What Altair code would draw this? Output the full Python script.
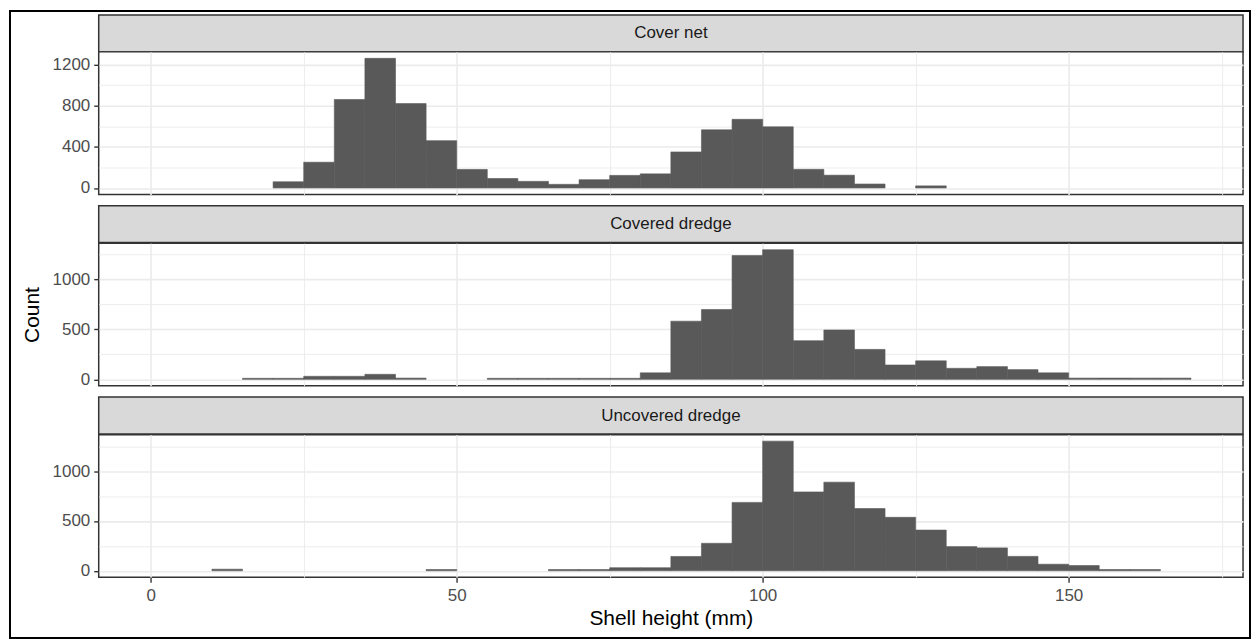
import altair as alt
import pandas as pd

# ---------------- data ----------------
panel_names = ["Cover net", "Covered dredge", "Uncovered dredge"]
bin_start = [0, 5, 10, 15, 20, 25, 30, 35, 40, 45, 50, 55, 60, 65, 70, 75, 80,
             85, 90, 95, 100, 105, 110, 115, 120, 125, 130, 135, 140, 145, 150,
             155, 160, 165]
bin_width = 5

cover_net = [0, 0, 0, 0, 60, 250, 860, 1260, 820, 460, 180, 92, 64, 35, 80, 122,
             137, 350, 565, 667, 594, 181, 124, 38, 0, 20, 0, 0, 0, 0, 0, 0, 0, 0]
covered_dredge = [0, 0, 0, 10, 10, 30, 30, 50, 12, 0, 0, 10, 10, 10, 10, 10, 65,
                  581, 698, 1237, 1295, 386, 493, 299, 143, 185, 110, 127, 97, 65,
                  12, 12, 12, 12]
uncovered_dredge = [0, 0, 15, 0, 0, 0, 0, 0, 0, 12, 0, 0, 0, 12, 12, 30, 30, 143,
                    275, 686, 1301, 791, 889, 624, 536, 408, 242, 229, 144, 65, 52,
                    12, 12, 0]

x_major = [0, 50, 100, 150]
x_minor = [25, 75, 125, 175]
y_major_cover = [0, 400, 800, 1200]
y_minor_cover = [200, 600, 1000]
y_major_dredge = [0, 500, 1000]
y_minor_dredge = [250, 750, 1250]

x_title = "Shell height (mm)"
y_title = "Count"

# ---------------- style ----------------
FONT = "Liberation Sans"
BAR = "#595959"
GRID = "#EBEBEB"
BORDER = "#333333"
STRIP = "#D9D9D9"
LABEL = "#4D4D4D"

W = 1148        # panel width
PH = 143        # panel height
SH = 37         # strip height
GAP = 11.35     # gap between panels
x_domain = [-8.5, 178.5]


def cond(test, a, b):
    return {"condition": {"test": test, "value": a}, "value": b}


def panel(counts, majors, minors, step, show_x, ytitle):
    df = pd.DataFrame({
        "start": bin_start,
        "end": [b + bin_width for b in bin_start],
        "count": counts,
    })
    ymax = max(counts)
    ydom = [-0.05 * ymax, 1.05 * ymax]

    xtest = "datum.value % 50 === 0"
    if show_x:
        x_axis = alt.Axis(
            values=sorted(x_major + x_minor), format="d",
            labelExpr=f"{xtest} ? datum.label : ''",
            grid=True, gridColor=GRID, gridWidth=cond(xtest, 1.6, 0.9),
            domain=False, ticks=True, tickColor=BORDER, tickWidth=1.4, tickSize=5,
            tickOpacity=cond(xtest, 1, 0),
            labelFont=FONT, labelFontSize=17, labelColor=LABEL, labelPadding=5,
            labelFlush=False, labelOverlap=False,
            title=x_title, titleFont=FONT, titleFontSize=21,
            titleFontWeight="normal", titleColor="#000000", titlePadding=4,
        )
    else:
        x_axis = alt.Axis(
            values=sorted(x_major + x_minor), labels=False, ticks=False,
            domain=False, grid=True, gridColor=GRID,
            gridWidth=cond(xtest, 1.6, 0.9), title=None,
        )

    ytest = f"datum.value % {step} === 0"
    y_kwargs = dict(
        values=sorted(majors + minors), format="d",
        labelExpr=f"{ytest} ? datum.label : ''",
        grid=True, gridColor=GRID, gridWidth=cond(ytest, 1.6, 0.9),
        domain=False, ticks=True, tickColor=BORDER, tickWidth=1.4, tickSize=5,
        tickOpacity=cond(ytest, 1, 0),
        labelFont=FONT, labelFontSize=17, labelColor=LABEL, labelPadding=4,
        labelFlush=False, labelOverlap=False,
    )
    if ytitle:
        y_axis = alt.Axis(title=ytitle, titleFont=FONT, titleFontSize=21,
                          titleFontWeight="normal", titleColor="#000000",
                          titlePadding=10, **y_kwargs)
    else:
        y_axis = alt.Axis(title=None, **y_kwargs)

    return alt.Chart(df).transform_filter("datum.count > 0").mark_rect(
        color=BAR, stroke=BAR, strokeWidth=0.6
    ).encode(
        x=alt.X("start:Q", scale=alt.Scale(domain=x_domain, nice=False, zero=False), axis=x_axis),
        x2="end:Q",
        y=alt.Y("count:Q", scale=alt.Scale(domain=ydom, nice=False, zero=False), axis=y_axis),
        y2=alt.datum(0),
    ).properties(
        width=W, height=PH,
        view=alt.ViewBackground(fill="white", stroke=BORDER, strokeWidth=1.5),
    )


def strip(name, top, frame=False):
    h = top + SH
    base = alt.Chart(pd.DataFrame({"label": [name]}))
    rect = base.mark_rect(fill=STRIP, stroke=BORDER, strokeWidth=1.5).encode(
        x=alt.value(0), x2=alt.value(W), y=alt.value(top), y2=alt.value(h)
    )
    text = base.mark_text(font=FONT, fontSize=17, color="#1A1A1A",
                          align="center", baseline="middle").encode(
        x=alt.value(W / 2), y=alt.value(top + SH / 2), text="label:N"
    )
    layers = [rect, text]
    if frame:
        border = base.mark_rect(filled=False, stroke="#000000", strokeWidth=2).encode(
            x=alt.value(-89), x2=alt.value(1155), y=alt.value(-4), y2=alt.value(625)
        )
        layers.append(border)
    return alt.layer(*layers).properties(
        width=W, height=h,
        view=alt.ViewBackground(fill="transparent", stroke="transparent"),
    )


charts = [
    strip(panel_names[0], 0, frame=True),
    panel(cover_net, y_major_cover, y_minor_cover, 400, False, None),
    strip(panel_names[1], GAP),
    panel(covered_dredge, y_major_dredge, y_minor_dredge, 500, False, y_title),
    strip(panel_names[2], GAP),
    panel(uncovered_dredge, y_major_dredge, y_minor_dredge, 500, True, None),
]

chart = alt.vconcat(*charts, spacing=0, bounds="flush").properties(
    padding=0
).configure(background="white")

chart.save("out.html", embed_options={"renderer": "svg", "actions": False})
